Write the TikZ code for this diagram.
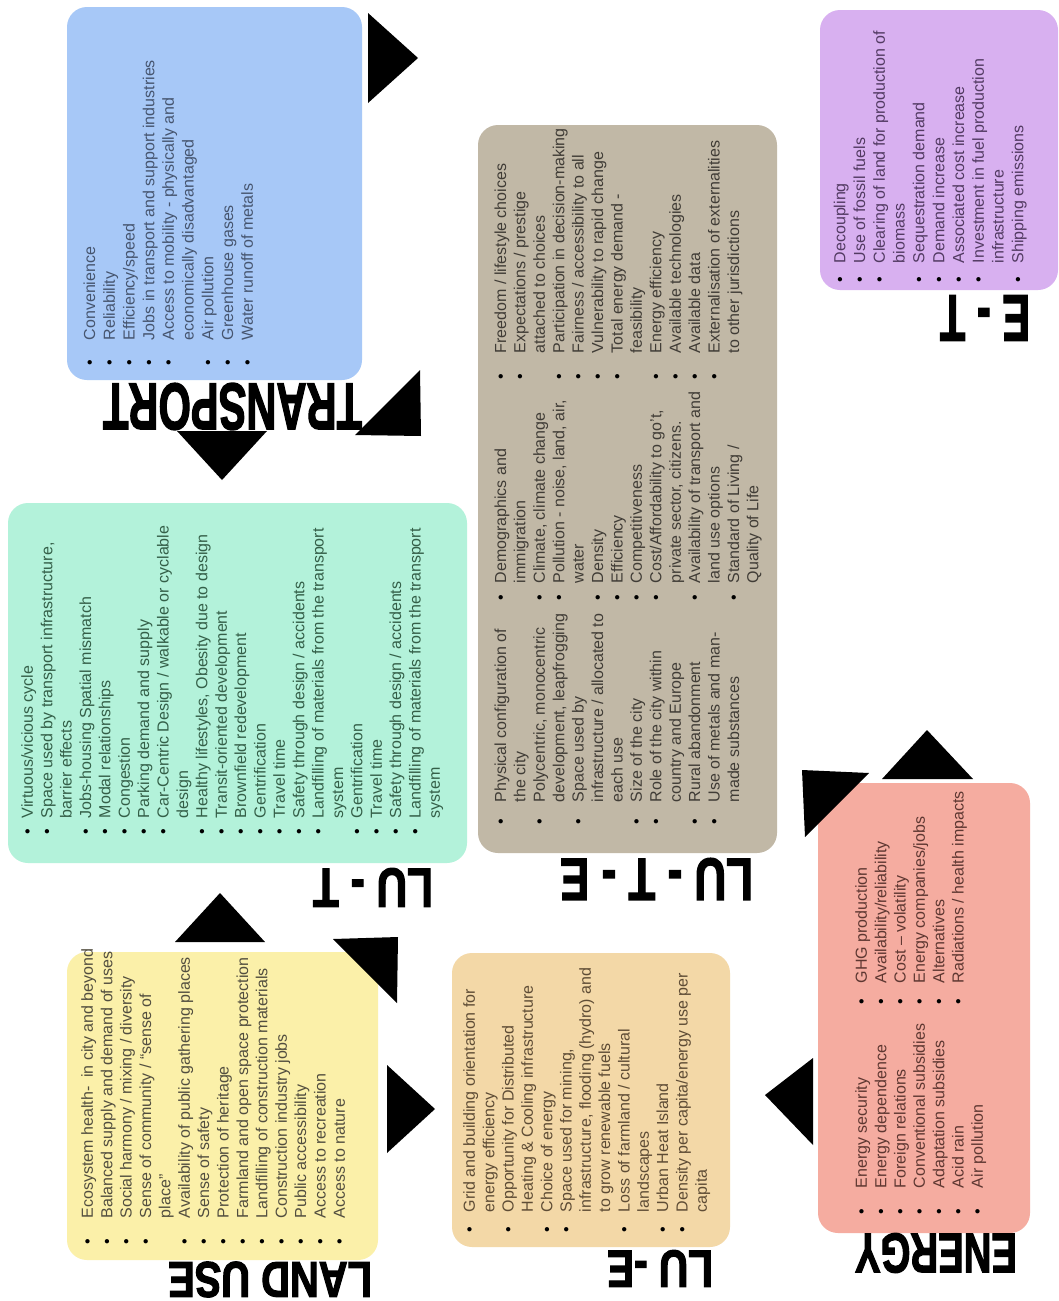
\documentclass[tikz,border=0pt]{standalone}
\usepackage{fontspec}
\setmainfont{Liberation Sans}
\newfontfamily\ttlfont{Liberation Sans}[FakeBold=2.5,UprightFont=*-Bold]
\usepackage{graphicx}
\definecolor{cTr}{HTML}{A7C8F7}\definecolor{tTr}{HTML}{46556F}
\definecolor{cEt}{HTML}{D8B0F0}\definecolor{tEt}{HTML}{523A62}
\definecolor{cLte}{HTML}{C1B8A6}\definecolor{tLte}{HTML}{403C36}
\definecolor{cLt}{HTML}{B3F2DA}\definecolor{tLt}{HTML}{345F48}
\definecolor{cLu}{HTML}{FBF0A9}\definecolor{tLu}{HTML}{524E3F}
\definecolor{cLe}{HTML}{F3D8A7}\definecolor{tLe}{HTML}{5E4C35}
\definecolor{cEn}{HTML}{F5ACA0}\definecolor{tEn}{HTML}{5E3731}
\newcommand{\blist}[3]{{\fontsize{16}{#1}\selectfont\begin{tabular}{@{}l@{\hspace{#2}}l@{}}#3\end{tabular}}}
\newcommand{\bu}{{\color{black}\textbullet}}
\tikzset{
  box/.style={rounded corners=20pt, inner sep=0pt, outer sep=0pt, draw=none},
  lst/.style={rotate=90, anchor=north west, inner sep=0pt, outer sep=0pt},
  ttl/.style={rotate=180, inner sep=0pt, outer sep=0pt},
  tri/.style={fill=black}
}
\begin{document}
\begin{tikzpicture}[x=1pt,y=-1pt]
\useasboundingbox (0,0) rectangle (1059,1301);
\fill[white] (0,0) rectangle (1059,1301);
% boxes
\node[box, fill=cTr, minimum width=295pt, minimum height=373pt] (transport) at (214.5,193.5) {};
\node[box, fill=cEt, minimum width=238pt, minimum height=280pt] (et) at (939,150) {};
\node[box, fill=cLte, minimum width=299pt, minimum height=728pt] (lute) at (627.5,489) {};
\node[box, fill=cLt, minimum width=459pt, minimum height=360pt] (lut) at (237.5,683) {};
\node[box, fill=cLu, minimum width=311pt, minimum height=308pt] (landuse) at (222.5,1106) {};
\node[box, fill=cLe, minimum width=278pt, minimum height=294pt] (lue) at (591,1100) {};
\node[box, fill=cEn, minimum width=212pt, minimum height=450pt] (energy) at (924,1008) {};
% titles
\node[ttl] (transport-t) at (232.5,406.5) {\resizebox{259pt}{46pt}{\ttlfont TRANSPORT}};
\node[ttl] (et-t) at (985,318) {\resizebox{90pt}{45pt}{\ttlfont E - T}};
\node[ttl] (lute-t) at (656.5,879) {\resizebox{193pt}{41pt}{\ttlfont LU - T - E}};
\node[ttl] (lut-t) at (373,887.5) {\resizebox{120pt}{38pt}{\ttlfont LU - T}};
\node[ttl] (landuse-t) at (270,1279.5) {\resizebox{204pt}{35pt}{\ttlfont LAND USE}};
\node[ttl] (lue-t) at (660,1268.5) {\resizebox{106pt}{36pt}{\ttlfont LU -E}};
\node[ttl] (energy-t) at (936,1253) {\resizebox{162pt}{39pt}{\ttlfont ENERGY}};
% lists
\node[lst, text=tTr] (transport-l) at (81.4,365.8) {\blist{19.7pt}{20pt}{%
\bu & Convenience\\
\bu & Reliability\\
\bu & Efficiency/speed\\
\bu & Jobs in transport and support industries\\
\bu & Access to mobility - physically and\\
 & economically disadvantaged\\
\bu & Air pollution\\
\bu & Greenhouse gases\\
\bu & Water runoff of metals}};
\node[lst, text=tEt] (et-l) at (831.4,282.8) {\blist{19.8pt}{14pt}{%
\bu & Decoupling\\
\bu & Use of fossil fuels\\
\bu & Clearing of land for production of\\
 & biomass\\
\bu & Sequestration demand\\
\bu & Demand increase\\
\bu & Associated cost increase\\
\bu & Investment in fuel production\\
 & infrastructure\\
\bu & Shipping emissions}};
\node[lst, text=tLt] (lut-l) at (19.4,834.8) {\blist{19.38pt}{11pt}{%
\bu & Virtuous/vicious cycle\\
\bu & Space used by transport infrastructure,\\
 & barrier effects\\
\bu & Jobs-housing Spatial mismatch\\
\bu & Modal relationships\\
\bu & Congestion\\
\bu & Parking demand and supply\\
\bu & Car-Centric Design / walkable or cyclable\\
 & design\\
\bu & Healthy lifestyles, Obesity due to design\\
\bu & Transit-oriented development\\
\bu & Brownfield redevelopment\\
\bu & Gentrification\\
\bu & Travel time\\
\bu & Safety through design / accidents\\
\bu & Landfilling of materials from the transport\\
 & system\\
\bu & Gentrification\\
\bu & Travel time\\
\bu & Safety through design / accidents\\
\bu & Landfilling of materials from the transport\\
 & system}};
\node[lst, text=tLu] (landuse-l) at (79.4,1244.8) {\blist{19.38pt}{21pt}{%
\bu & Ecosystem health-~ in city and beyond\\
\bu & Balanced supply and demand of uses\\
\bu & Social harmony / mixing / diversity\\
\bu & Sense of community / “sense of\\
 & place”\\
\bu & Availability of public gathering places\\
\bu & Sense of safety\\
\bu & Protection of heritage\\
\bu & Farmland and open space protection\\
\bu & Landfilling of construction materials\\
\bu & Construction industry jobs\\
\bu & Public accessibility\\
\bu & Access to recreation\\
\bu & Access to nature}};
\node[lst, text=tLe] (lue-l) at (461.4,1232.8) {\blist{19.33pt}{15pt}{%
\bu & Grid and building orientation for\\
 & energy efficiency\\
\bu & Opportunity for Distributed\\
 & Heating \& Cooling infrastructure\\
\bu & Choice of energy\\
\bu & Space used for mining,\\
 & infrastructure, flooding (hydro) and\\
 & to grow renewable fuels\\
\bu & Loss of farmland / cultural\\
 & landscapes\\
\bu & Urban Heat Island\\
\bu & Density per capita/energy use per\\
 & capita}};
\node[lst, text=tEn] (energy-l1) at (853.4,1214.8) {\blist{19.33pt}{21pt}{%
\bu & Energy security\\
\bu & Energy dependence\\
\bu & Foreign relations\\
\bu & Conventional subsidies\\
\bu & Adaptation subsidies\\
\bu & Acid rain\\
\bu & Air pollution}};
\node[lst, text=tEn] (energy-l2) at (853.4,1004.8) {\blist{19.33pt}{16pt}{%
\bu & GHG production\\
\bu & Availability/reliability\\
\bu & Cost – volatility\\
\bu & Energy companies/jobs\\
\bu & Alternatives\\
\bu & Radiations / health impacts}};
\node[lst, text=tLte] (lute-l1) at (492.4,824.8) {\blist{19.42pt}{17pt}{%
\bu & Physical configuration of\\
 & the city\\
\bu & Polycentric, monocentric\\
 & development, leapfrogging\\
\bu & Space used by\\
 & infrastructure / allocated to\\
 & each use\\
\bu & Size of the city\\
\bu & Role of the city within\\
 & country and Europe\\
\bu & Rural abandonment\\
\bu & Use of metals and man-\\
 & made substances}};
\node[lst, text=tLte] (lute-l2) at (492.4,600.8) {\blist{19.42pt}{12pt}{%
\bu & Demographics and\\
 & immigration\\
\bu & Climate, climate change\\
\bu & Pollution - noise, land, air,\\
 & water\\
\bu & Density\\
\bu & Efficiency\\
\bu & Competitiveness\\
\bu & Cost/Affordability to go't,\\
 & private sector, citizens.\\
\bu & Availability of transport and\\
 & land use options\\
\bu & Standard of Living /\\
 & Quality of Life}};
\node[lst, text=tLte] (lute-l3) at (492.4,379.8) {\blist{19.42pt}{21pt}{%
\bu & Freedom / lifestyle choices\\
\bu & Expectations / prestige\\
 & attached to choices\\
\bu & Participation in decision-making\\
\bu & Fairness / accessibility to all\\
\bu & Vulnerability to rapid change\\
\bu & Total energy demand -\\
 & feasibility\\
\bu & Energy efficiency\\
\bu & Available technologies\\
\bu & Available data\\
\bu & Externalisation of externalities\\
 & to other jurisdictions}};
% triangles
\fill[tri] (368,13) -- (368,103) -- (418,58) -- cycle;
\fill[tri] (355,435) -- (420,370) -- (421,436) -- cycle;
\fill[tri] (177,431) -- (267,431) -- (222,480) -- cycle;
\fill[tri] (220,893) -- (265,942) -- (175,942) -- cycle;
\fill[tri] (333,939) -- (398,937) -- (397,1003) -- cycle;
\fill[tri] (387,1065) -- (387,1153) -- (435,1109) -- cycle;
\fill[tri] (813,1058) -- (813,1145) -- (765,1095) -- cycle;
\fill[tri] (802,770) -- (869,773) -- (805,837) -- cycle;
\fill[tri] (927,730) -- (973,779) -- (882,779) -- cycle;
\end{tikzpicture}
\end{document}
